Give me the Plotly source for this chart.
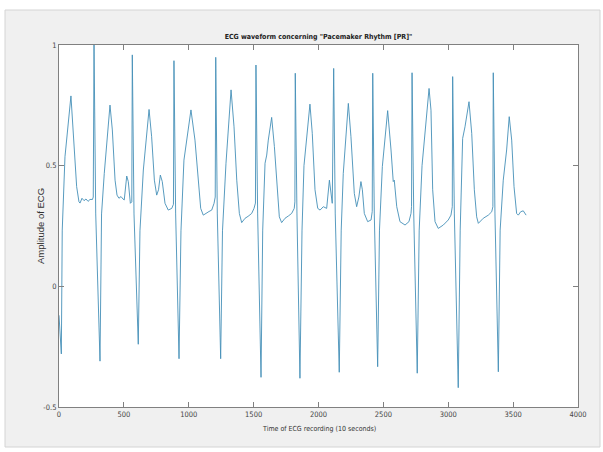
import plotly.graph_objects as go

# ECG samples (sample index, amplitude)
sample_idx = [
    0, 18, 25, 46, 92, 118, 136, 154, 162, 177, 193, 208, 224, 239, 258, 264,
    270, 283, 316,
    328, 349, 393, 411, 432, 447, 462, 478, 493, 503, 522, 534, 550, 561,
    565, 578, 611,
    624, 650, 694, 714, 735, 753, 767, 781, 796, 817, 842, 869, 882,
    886, 899, 925,
    940, 963, 1017, 1048, 1074, 1092, 1112, 1138, 1156, 1177, 1195, 1204,
    1208, 1220, 1246,
    1260, 1287, 1326, 1349, 1370, 1390, 1408, 1434, 1457, 1485, 1503, 1514,
    1518, 1531, 1557,
    1570, 1588, 1601, 1613, 1639, 1660, 1683, 1698, 1716, 1742, 1769, 1793, 1813, 1818,
    1821, 1834, 1857,
    1873, 1888, 1934, 1952, 1973, 1994, 2012, 2037, 2063, 2084, 2096, 2106,
    2117, 2129, 2160,
    2175, 2191, 2230, 2250, 2276, 2294, 2311, 2327, 2338, 2353, 2379, 2405, 2414,
    2418, 2430, 2456,
    2470, 2492, 2533, 2559, 2576, 2584, 2603, 2628, 2667, 2697, 2713, 2717,
    2721, 2734, 2761,
    2776, 2798, 2852, 2867, 2880, 2898, 2923, 2962, 3000, 3021, 3031,
    3034, 3047, 3077,
    3092, 3111, 3129, 3160, 3181, 3201, 3219, 3232, 3270, 3309, 3335, 3344,
    3347, 3360, 3386,
    3400, 3424, 3450, 3470, 3489, 3507, 3527, 3540, 3558, 3578, 3591, 3600,
]
amplitude = [
    -0.12, -0.28, 0.233, 0.537, 0.789, 0.565, 0.413, 0.35, 0.345, 0.365, 0.355, 0.362, 0.352, 0.36, 0.36, 0.37,
    1.0, 0.3, -0.31,
    0.3, 0.468, 0.751, 0.648, 0.44, 0.378, 0.365, 0.372, 0.362, 0.358, 0.457, 0.434, 0.344, 0.35,
    0.959, 0.3, -0.24,
    0.23, 0.482, 0.733, 0.62, 0.44, 0.378, 0.40, 0.461, 0.434, 0.344, 0.316, 0.323, 0.34,
    0.935, 0.3, -0.30,
    0.23, 0.523, 0.731, 0.606, 0.44, 0.323, 0.295, 0.302, 0.31, 0.316, 0.344, 0.37,
    0.949, 0.3, -0.30,
    0.23, 0.51, 0.814, 0.661, 0.44, 0.302, 0.264, 0.282, 0.29, 0.302, 0.323, 0.345,
    0.917, 0.3, -0.377,
    0.233, 0.51, 0.544, 0.606, 0.70, 0.579, 0.40, 0.288, 0.264, 0.282, 0.292, 0.302, 0.323, 0.35,
    0.883, 0.3, -0.381,
    0.233, 0.50, 0.755, 0.634, 0.40, 0.323, 0.316, 0.33, 0.323, 0.44, 0.385, 0.344,
    0.903, 0.3, -0.356,
    0.233, 0.468, 0.758, 0.62, 0.385, 0.33, 0.37, 0.434, 0.40, 0.302, 0.268, 0.275, 0.31,
    0.883, 0.3, -0.333,
    0.233, 0.496, 0.728, 0.565, 0.434, 0.44, 0.33, 0.268, 0.254, 0.268, 0.302, 0.33,
    0.885, 0.3, -0.36,
    0.233, 0.50, 0.82, 0.73, 0.40, 0.268, 0.24, 0.254, 0.275, 0.295, 0.33,
    0.869, 0.3, -0.42,
    0.233, 0.613, 0.661, 0.765, 0.634, 0.40, 0.288, 0.261, 0.282, 0.295, 0.309, 0.33,
    0.885, 0.3, -0.354,
    0.233, 0.44, 0.565, 0.703, 0.606, 0.413, 0.302, 0.295, 0.309, 0.313, 0.302, 0.295,
]

x_tick_vals = [0, 500, 1000, 1500, 2000, 2500, 3000, 3500, 4000]
y_tick_vals = [-0.5, 0, 0.5, 1]
y_tick_text = ["-0.5", "0", "0.5", "1"]

title_text = 'ECG waveform concerning "Pacemaker Rhythm [PR]"'
x_label = "Time of ECG recording (10 seconds)"
y_label = "Amplitude of ECG"

W, H = 603, 452
L, R, T, B = 59, 25, 45, 45
pw, ph = W - L - R, H - T - B


def px_x(p):
    return (p - L) / pw


def px_y(p):
    return (H - B - p) / ph


narrow = "DejaVu Sans Condensed, Liberation Sans Narrow, Arial Narrow, sans-serif"
regular = "Liberation Sans, Arial, sans-serif"

fig = go.Figure()
fig.add_trace(go.Scatter(
    x=sample_idx, y=amplitude, mode="lines",
    line=dict(color="#4590b8", width=0.9),
    hoverinfo="skip", showlegend=False,
))

axis_common = dict(
    showline=True, linecolor="#808080", linewidth=1, mirror="ticks",
    ticks="inside", ticklen=5, tickcolor="#808080", tickwidth=1,
    showgrid=False, zeroline=False,
    tickfont=dict(family=narrow, size=7.5, color="#444444"),
)

fig.update_layout(
    width=W, height=H,
    margin=dict(l=L, r=R, t=T, b=B),
    paper_bgcolor="white",
    plot_bgcolor="rgba(0,0,0,0)",
    title=dict(text="<b>" + title_text + "</b>",
               x=(L + pw / 2) / W, xanchor="center",
               y=1 - 37 / H, yanchor="middle",
               font=dict(family=narrow, size=7, color="#222222")),
    xaxis=dict(range=[0, 4000], tickvals=x_tick_vals, **axis_common),
    yaxis=dict(range=[-0.5, 1], tickvals=y_tick_vals, ticktext=y_tick_text, **axis_common),
    shapes=[
        dict(type="rect", xref="paper", yref="paper", layer="below",
             x0=px_x(5), x1=px_x(600), y0=px_y(447), y1=px_y(10),
             fillcolor="#f0f0f0", line=dict(color="#d4d4d4", width=1)),
        dict(type="rect", xref="paper", yref="paper", layer="below",
             x0=0, x1=1, y0=0, y1=1, fillcolor="white", line=dict(width=0)),
    ],
    annotations=[
        dict(text=x_label, xref="paper", yref="paper", x=0.5, y=px_y(429),
             xanchor="center", yanchor="middle", showarrow=False,
             font=dict(family=narrow, size=7, color="#333333")),
        dict(text=y_label, xref="paper", yref="paper", x=px_x(40), y=0.5,
             xanchor="center", yanchor="middle", showarrow=False, textangle=-90,
             font=dict(family=regular, size=9.5, color="#333333")),
    ],
)

fig.write_html("out.html", config={"displayModeBar": False},
               post_script="document.body.style.margin='0px';")
